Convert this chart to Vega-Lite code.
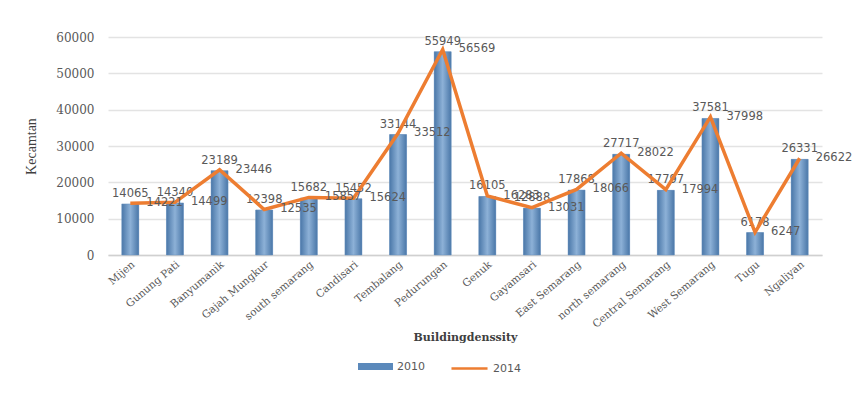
{
  "$schema": "https://vega.github.io/schema/vega-lite/v6.json",
  "width": 714,
  "height": 218,
  "autosize": "none",
  "padding": {"left": 108, "top": 37, "right": 32, "bottom": 151},
  "background": "white",
  "data": {
    "values": [
      {"district": "Mijen", "v2010": 14065, "v2014": 14221},
      {"district": "Gunung Pati", "v2010": 14340, "v2014": 14499},
      {"district": "Banyumanik", "v2010": 23189, "v2014": 23446},
      {"district": "Gajah Mungkur", "v2010": 12398, "v2014": 12535},
      {"district": "south semarang", "v2010": 15682, "v2014": 15857},
      {"district": "Candisari", "v2010": 15452, "v2014": 15624},
      {"district": "Tembalang", "v2010": 33144, "v2014": 33512},
      {"district": "Pedurungan", "v2010": 55949, "v2014": 56569},
      {"district": "Genuk", "v2010": 16105, "v2014": 16283},
      {"district": "Gayamsari", "v2010": 12888, "v2014": 13031},
      {"district": "East Semarang", "v2010": 17868, "v2014": 18066},
      {"district": "north semarang", "v2010": 27717, "v2014": 28022},
      {"district": "Central Semarang", "v2010": 17797, "v2014": 17994},
      {"district": "West Semarang", "v2010": 37581, "v2014": 37998},
      {"district": "Tugu", "v2010": 6178, "v2014": 6247},
      {"district": "Ngaliyan", "v2010": 26331, "v2014": 26622}
    ]
  },
  "encoding": {
    "x": {
      "field": "district",
      "type": "nominal",
      "sort": null,
      "scale": {"paddingInner": 0.62, "paddingOuter": 0.31},
      "axis": {
        "title": "Buildingdenssity",
        "titleFont": "DejaVu Serif",
        "titleFontSize": 11,
        "titleFontWeight": "bold",
        "titleColor": "#404040",
        "titleY": 82,
        "titleBaseline": "middle",
        "labelAngle": -40,
        "labelFont": "DejaVu Serif",
        "labelFontSize": 10.5,
        "labelColor": "#595959",
        "labelPadding": 4,
        "ticks": false,
        "domainColor": "#D0D0D0",
        "domainWidth": 1.5,
        "grid": false
      }
    }
  },
  "layer": [
    {
      "mark": {"type": "bar"},
      "encoding": {
        "y": {
          "field": "v2010",
          "type": "quantitative",
          "scale": {"domain": [0, 60000]},
          "axis": {"title": "Kecamtan"}
        },
        "color": {
          "datum": "2010",
          "scale": {"domain": ["2010"], "range": ["#5B89BB"]},
          "legend": {
            "title": null,
            "orient": "none",
            "legendX": 250,
            "legendY": 312,
            "symbolType": "M-1,-0.2H1V0.2H-1Z",
            "symbolSize": 1225,
            "symbolStrokeWidth": 0,
            "labelFont": "DejaVu Sans",
            "labelFontSize": 11,
            "labelColor": "#595959"
          }
        }
      }
    },
    {
      "mark": {
        "type": "bar",
        "fill": {
          "gradient": "linear",
          "x1": 0, "x2": 1, "y1": 0, "y2": 0,
          "stops": [
            {"offset": 0, "color": "#4A77A8"},
            {"offset": 0.5, "color": "#8DB1D7"},
            {"offset": 1, "color": "#4A77A8"}
          ]
        },
        "stroke": "#6A92BE",
        "strokeWidth": 0.5
      },
      "encoding": {
        "y": {"field": "v2010", "type": "quantitative", "axis": {"title": "Kecamtan"}}
      }
    },
    {
      "mark": {"type": "text", "baseline": "bottom", "dy": -5, "font": "DejaVu Sans", "fontSize": 11.5, "color": "#595959"},
      "encoding": {
        "y": {"field": "v2010", "type": "quantitative", "axis": {"title": "Kecamtan"}},
        "text": {"field": "v2010", "type": "quantitative", "format": "d"}
      }
    },
    {
      "mark": {"type": "line", "color": "#ED7D31", "strokeWidth": 3.5},
      "encoding": {
        "y": {"field": "v2014", "type": "quantitative", "axis": {"title": "Kecamtan"}},
        "color": {
          "datum": "2014",
          "scale": {"domain": ["2014"], "range": ["#ED7D31"]},
          "legend": {
            "title": null,
            "orient": "none",
            "legendX": 342,
            "legendY": 312,
            "symbolType": "stroke",
            "symbolSize": 1300,
            "symbolStrokeWidth": 2.5,
            "labelFont": "DejaVu Sans",
            "labelFontSize": 11,
            "labelColor": "#595959"
          }
        }
      }
    },
    {
      "mark": {"type": "text", "align": "left", "baseline": "middle", "dx": 16, "font": "DejaVu Sans", "fontSize": 11.5, "color": "#595959"},
      "encoding": {
        "y": {"field": "v2014", "type": "quantitative", "axis": {"title": "Kecamtan"}},
        "text": {"field": "v2014", "type": "quantitative", "format": "d"}
      }
    }
  ],
  "resolve": {"scale": {"color": "independent"}, "legend": {"color": "independent"}},
  "config": {
    "view": {"stroke": null},
    "axisY": {
      "tickCount": 6,
      "format": "d",
      "titleFont": "Liberation Serif",
      "titleFontSize": 14,
      "titleFontWeight": "normal",
      "titleColor": "#404040",
      "titleX": -70,
      "titleY": 109,
      "labelFont": "DejaVu Serif",
      "labelFontSize": 12,
      "labelColor": "#595959",
      "labelPadding": 14,
      "labelOverlap": false,
      "ticks": false,
      "domain": false,
      "gridColor": "#E3E3E3",
      "gridWidth": 1.5
    }
  }
}
